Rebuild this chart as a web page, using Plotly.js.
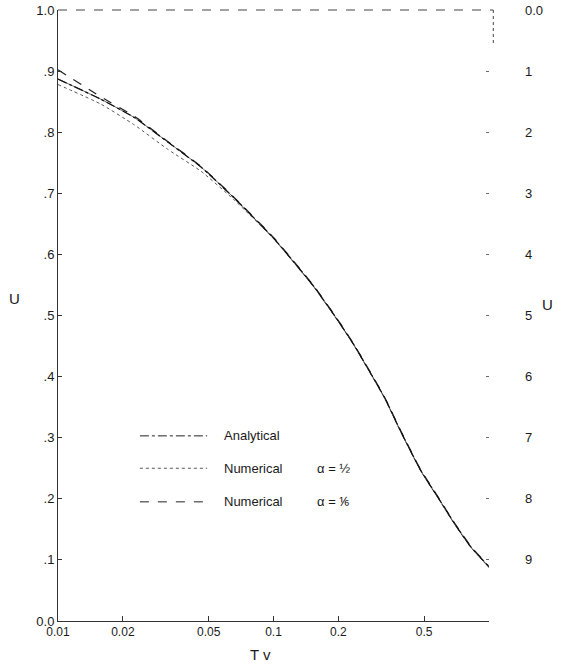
<!DOCTYPE html>
<html>
<head>
<meta charset="utf-8">
<script src="https://cdn.plot.ly/plotly-3.0.1.min.js"></script>
<style>html,body{margin:0;padding:0;background:#fff;}#chart{width:562px;height:669px;}</style>
</head>
<body>
<div id="chart"></div>
<script>
// Time factor Tv (log axis)
const tv = [0.01, 0.0158, 0.0226, 0.0323, 0.0461, 0.0658, 0.101, 0.155, 0.206, 0.237, 0.327, 0.391, 0.483, 0.578, 0.690, 0.825, 0.968, 1.0];
// Analytical solution
const uAnalytical = [0.887, 0.854, 0.824, 0.784, 0.743, 0.692, 0.625, 0.546, 0.484, 0.451, 0.366, 0.309, 0.246, 0.203, 0.160, 0.121, 0.094, 0.088];
// Numerical, alpha = 1/2
const uNumHalf = [0.878, 0.846, 0.812, 0.772, 0.736, 0.689, 0.624, 0.545, 0.483, 0.450, 0.365, 0.308, 0.245, 0.202, 0.159, 0.120, 0.093, 0.087];
// Numerical, alpha = 1/6
const uNumSixth = [0.902, 0.858, 0.826, 0.785, 0.744, 0.693, 0.626, 0.547, 0.485, 0.452, 0.367, 0.310, 0.247, 0.204, 0.161, 0.122, 0.095, 0.089];

const xTickVals = [0.01, 0.02, 0.05, 0.1, 0.2, 0.5, 1];
const xTickText = ["0.01", "0.02", "0.05", "0.1", "0.2", "0.5", ""];
const yTickVals = [0, 0.1, 0.2, 0.3, 0.4, 0.5, 0.6, 0.7, 0.8, 0.9, 1.0];
const yTickText = ["0.0", ".1", ".2", ".3", ".4", ".5", ".6", ".7", ".8", ".9", "1.0"];
const y2TickVals = [0, 0.1, 0.2, 0.3, 0.4, 0.5, 0.6, 0.7, 0.8, 0.9];
const y2TickText = ["0.0", "1", "2", "3", "4", "5", "6", "7", "8", "9"];

const legendNames = ["Analytical", "Numerical", "Numerical"];
const legendAlpha = ["", "α = ½", "α = ⅙"];

const FONT = "Liberation Sans, Arial, sans-serif";
const INK = "#1a1a1a";
const SPL = {shape: "spline", smoothing: 0.5};

const traces = [
  {x: tv, y: uNumHalf, type: "scatter", mode: "lines", line: Object.assign({color: "#555", width: 1, dash: "dot"}, SPL), showlegend: false, hoverinfo: "skip"},
  {x: tv, y: uNumSixth, type: "scatter", mode: "lines", line: Object.assign({color: "#222", width: 1.2, dash: "dash"}, SPL), showlegend: false, hoverinfo: "skip"},
  {x: tv, y: uAnalytical, type: "scatter", mode: "lines", line: Object.assign({color: "#111", width: 1.3, dash: "dashdot"}, SPL), showlegend: false, hoverinfo: "skip"},
  {x: tv, y: uAnalytical, type: "scatter", mode: "lines", line: Object.assign({color: "#111", width: 0.8}, SPL), opacity: 0.8, showlegend: false, hoverinfo: "skip"},
  // empty trace so the right-hand (1 - U) axis is drawn
  {x: [], y: [], type: "scatter", mode: "lines", yaxis: "y2", showlegend: false, hoverinfo: "skip"}
];

// legend (manual, paper coordinates)
const rowY = [0.303, 0.250, 0.195];
const dashes = ["dashdot", "dot", "dash"];
const shapes = [];
const annotations = [];
for (let i = 0; i < 3; i++) {
  shapes.push({type: "line", xref: "paper", yref: "paper", x0: 0.19, x1: 0.346, y0: rowY[i], y1: rowY[i],
    line: {color: i === 1 ? "#555" : "#222", width: 1, dash: dashes[i]}});
  annotations.push({xref: "paper", yref: "paper", x: 0.381, y: rowY[i], xanchor: "left", yanchor: "middle",
    text: legendNames[i], showarrow: false, font: {family: FONT, size: 13, color: INK}});
  if (legendAlpha[i]) {
    annotations.push({xref: "paper", yref: "paper", x: 0.596, y: rowY[i], xanchor: "left", yanchor: "middle",
      text: legendAlpha[i], showarrow: false, font: {family: FONT, size: 13, color: INK}});
  }
}
// top frame (dashed as in the print) and partial right frame
shapes.push({type: "line", xref: "paper", yref: "paper", x0: 0, x1: 1.01, y0: 1, y1: 1, line: {color: "#444", width: 1, dash: "dash"}});
shapes.push({type: "line", xref: "paper", yref: "paper", x0: 1.01, x1: 1.01, y0: 1, y1: 0.945, line: {color: "#444", width: 1, dash: "dot"}});

// axis titles
annotations.push({xref: "paper", yref: "paper", x: 0.47, y: -0.055, xanchor: "center", yanchor: "middle",
  text: "T v", showarrow: false, font: {family: FONT, size: 15, color: INK}});
annotations.push({xref: "paper", yref: "paper", x: -0.102, y: 0.528, xanchor: "center", yanchor: "middle",
  text: "U", showarrow: false, font: {family: FONT, size: 15, color: INK}});
annotations.push({xref: "paper", yref: "paper", x: 1.135, y: 0.518, xanchor: "center", yanchor: "middle",
  text: "U", showarrow: false, font: {family: FONT, size: 15, color: INK}});

const layout = {
  width: 562, height: 669,
  margin: {l: 58, r: 73, t: 10, b: 48},
  paper_bgcolor: "#fff", plot_bgcolor: "#fff",
  showlegend: false,
  font: {family: FONT, size: 13, color: INK},
  xaxis: {
    type: "log", range: [-2, 0],
    tickvals: xTickVals, ticktext: xTickText,
    ticks: "inside", ticklen: 5, tickcolor: "#333",
    showline: true, linecolor: "#333", linewidth: 1,
    showgrid: false, zeroline: false,
    tickfont: {family: FONT, size: 12, color: INK}
  },
  yaxis: {
    range: [0, 1],
    tickvals: yTickVals, ticktext: yTickText,
    ticks: "inside", ticklen: 4, tickcolor: "#333",
    showline: true, linecolor: "#333", linewidth: 1,
    showgrid: false, zeroline: false,
    tickfont: {family: FONT, size: 13, color: INK}
  },
  yaxis2: {
    overlaying: "y", side: "right", anchor: "x",
    range: [1, 0],
    tickvals: y2TickVals, ticktext: y2TickText,
    ticks: "inside", ticklen: 3, tickcolor: "#666",
    ticklabelstandoff: 35,
    showline: false, showgrid: false, zeroline: false,
    tickfont: {family: FONT, size: 13, color: INK}
  },
  shapes: shapes,
  annotations: annotations
};

Plotly.newPlot("chart", traces, layout, {staticPlot: true, displayModeBar: false});
</script>
</body>
</html>
